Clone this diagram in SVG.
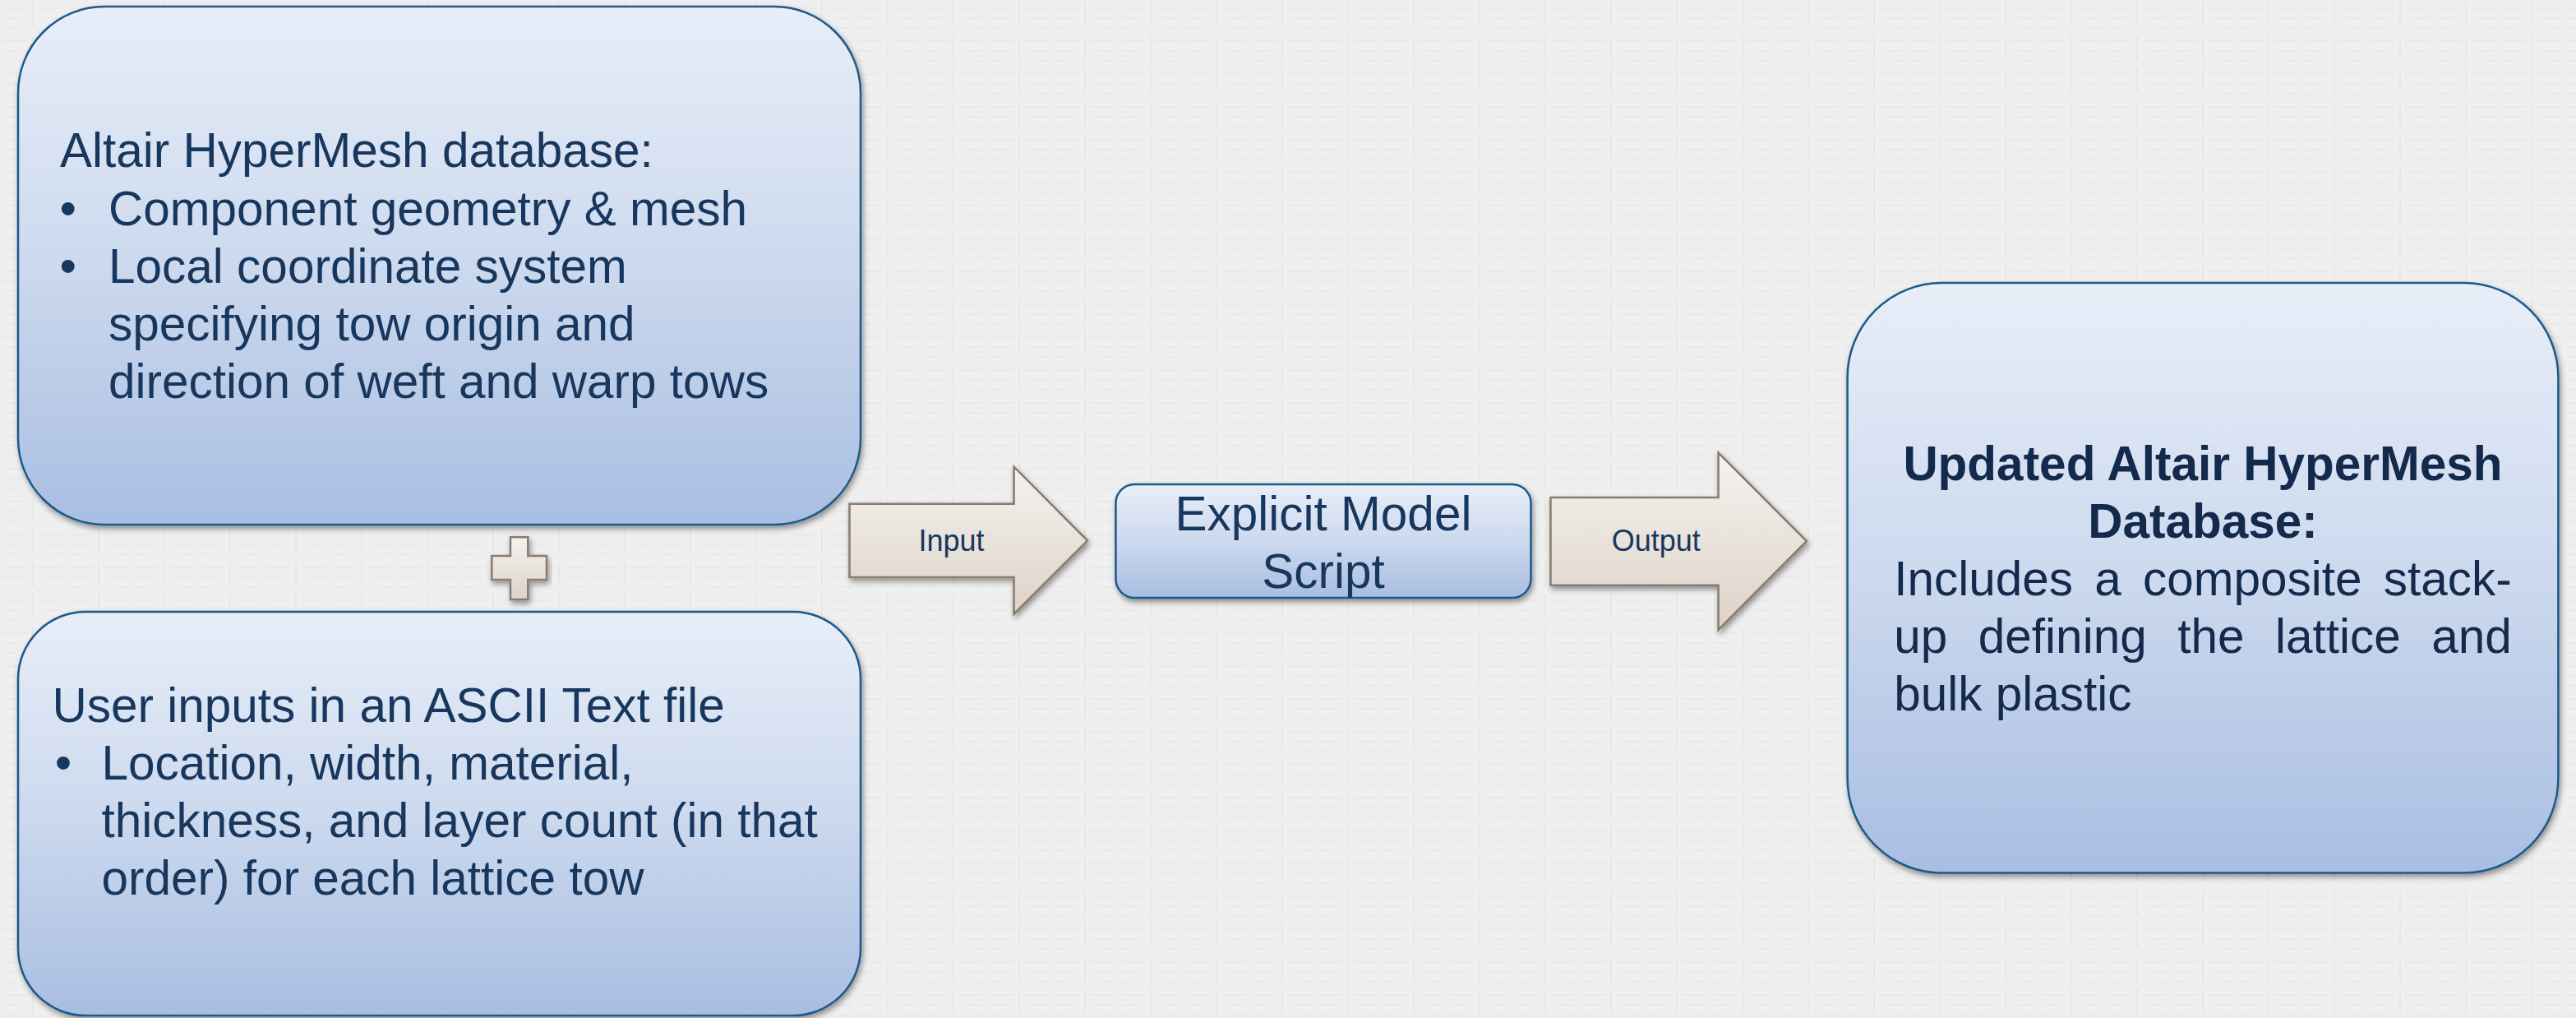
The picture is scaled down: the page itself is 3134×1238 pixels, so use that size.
<svg xmlns="http://www.w3.org/2000/svg" width="3134" height="1238" viewBox="0 0 3134 1238">
  <style>
    .box { fill: url(#boxGrad); stroke: #1C5A8A; stroke-width: 2.5; filter: url(#shadow); }
    .blk { fill: url(#arrowGrad); stroke: #8A7B6C; stroke-width: 2.5; stroke-linejoin: miter; filter: url(#shadow); }
    .t { font-family: "Liberation Sans", Arial, sans-serif; font-size: 58.5px; fill: #17375E; }
    .tr { font-family: "Liberation Sans", Arial, sans-serif; font-size: 58.5px; fill: #142A4C; }
    .b { font-weight: bold; }
    .lbl { font-family: "Liberation Sans", Arial, sans-serif; font-size: 36px; fill: #17375E; text-anchor: middle; }
  </style>
  <defs>
    <linearGradient id="boxGrad" x1="0" y1="0" x2="0" y2="1">
      <stop offset="0" stop-color="#E8EEF8"/>
      <stop offset="0.5" stop-color="#CCD9EE"/>
      <stop offset="1" stop-color="#A8BEE2"/>
    </linearGradient>
    <linearGradient id="arrowGrad" x1="0" y1="0" x2="0" y2="1">
      <stop offset="0" stop-color="#F5F2EE"/>
      <stop offset="1" stop-color="#DCD3C9"/>
    </linearGradient>
    <filter id="shadow" x="-10%" y="-10%" width="120%" height="125%">
      <feDropShadow dx="2" dy="4" stdDeviation="3.5" flood-color="#000" flood-opacity="0.4"/>
    </filter>
    <pattern id="bgPat" width="80" height="80" patternUnits="userSpaceOnUse">
      <rect width="80" height="80" fill="#EFEFEF"/>
      <path d="M4 10h30M4 22h22M4 34h14M46 10h30M54 22h22M62 34h14M4 50h30M4 62h22M4 74h14M46 50h30M54 62h22M62 74h14M40 2v30M40 44v30" stroke="#E3E3E3" stroke-width="1.2" fill="none"/>
    </pattern>
  </defs>

  <rect width="3134" height="1238" fill="url(#bgPat)"/>

  <g id="node-hypermesh-db">
    <rect class="box" x="22" y="8" width="1025" height="630" rx="105" ry="105"/>
    <text class="t" x="73" y="203.4">Altair HyperMesh database:</text>
    <text class="t" x="72.5" y="273.6">•</text>
    <text class="t" x="132" y="273.6">Component geometry &amp; mesh</text>
    <text class="t" x="72.5" y="343.7">•</text>
    <text class="t" x="132" y="343.7">Local coordinate system</text>
    <text class="t" x="132" y="413.9">specifying tow origin and</text>
    <text class="t" x="132" y="484">direction of weft and warp tows</text>
  </g>

  <g id="plus">
    <polygon class="blk" points="621,653.3 642.3,653.3 642.3,676 665,676 665,705 642.3,705 642.3,729 621,729 621,705 598.3,705 598.3,676 621,676"/>
  </g>

  <g id="node-user-inputs">
    <rect class="box" x="22" y="744" width="1025" height="491" rx="82" ry="82"/>
    <text class="t" x="63.5" y="878">User inputs in an ASCII Text file</text>
    <text class="t" x="66.8" y="948">•</text>
    <text class="t" x="123.4" y="948">Location, width, material,</text>
    <text class="t" x="123.4" y="1018">thickness, and layer count (in that</text>
    <text class="t" x="123.4" y="1088">order) for each lattice tow</text>
  </g>

  <g id="node-script">
    <rect class="box" x="1357.5" y="589" width="505" height="138" rx="23" ry="23"/>
    <text class="t" x="1610" y="645" text-anchor="middle">Explicit Model</text>
    <text class="t" x="1610" y="715" text-anchor="middle">Script</text>
  </g>

  <g id="node-updated-db">
    <rect class="box" x="2247.6" y="344" width="864.8" height="717.6" rx="115" ry="115"/>
    <text class="tr b" x="2680" y="584" text-anchor="middle">Updated Altair HyperMesh</text>
    <text class="tr b" x="2680" y="654" text-anchor="middle">Database:</text>
    <text class="tr" y="724"><tspan x="2304.2">Includes</tspan><tspan x="2548.3">a</tspan><tspan x="2607">composite</tspan><tspan x="2899.8">stack-</tspan></text>
    <text class="tr" y="794"><tspan x="2304.2">up</tspan><tspan x="2406.8">defining</tspan><tspan x="2649.2">the</tspan><tspan x="2768">lattice</tspan><tspan x="2958.3">and</tspan></text>
    <text class="tr" x="2304.2" y="864">bulk plastic</text>
  </g>

  <g id="connectors">
    <g id="arrow-input">
      <polygon class="blk" points="1033.5,612.8 1233.6,612.8 1233.6,567.7 1323,657.3 1233.6,746.7 1233.6,702 1033.5,702"/>
      <text class="lbl" x="1157.5" y="670">Input</text>
    </g>
    <g id="arrow-output">
      <polygon class="blk" points="1886.5,605 2090.6,605 2090.6,550.5 2198,658 2090.6,766 2090.6,711.7 1886.5,711.7"/>
      <text class="lbl" x="2014.8" y="670">Output</text>
    </g>
  </g>
</svg>
